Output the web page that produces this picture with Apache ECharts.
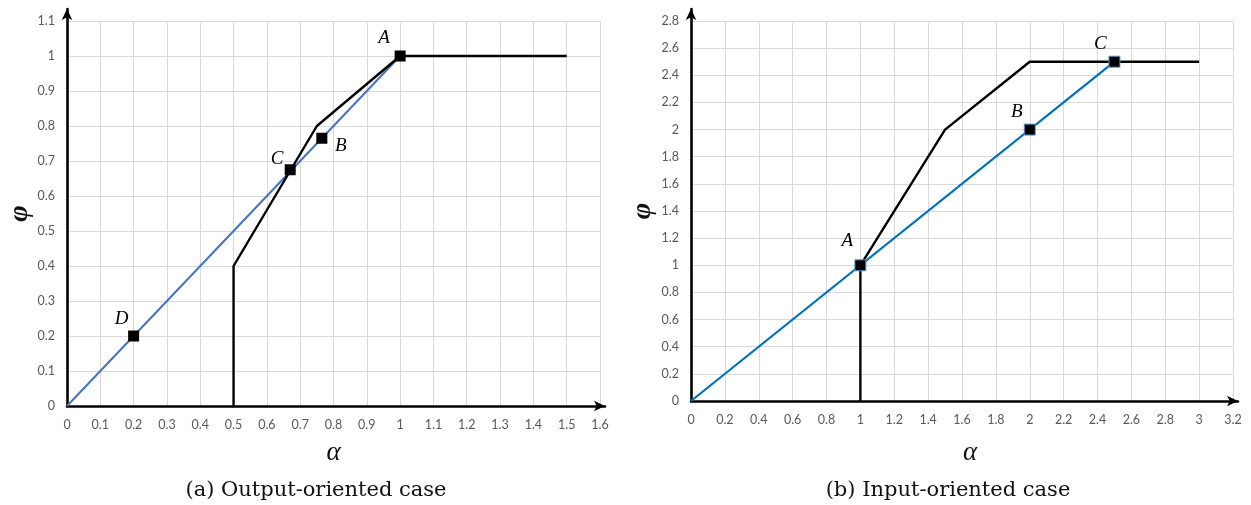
<!DOCTYPE html>
<html>
<head>
<meta charset="utf-8">
<script src="https://cdn.jsdelivr.net/npm/echarts@6/dist/echarts.min.js"></script>
<style>
html,body{margin:0;padding:0;background:#fff;}
#c{width:1251px;height:505px;}
</style>
</head>
<body>
<div id="c"></div>
<script>
// ---- data: (a) output-oriented ----
var aFrontierX = [0.5, 0.5, 0.75, 1, 1.5];
var aFrontierY = [0, 0.4, 0.8, 1, 1];
var aRayX = [0, 1];
var aRayY = [0, 1];
var aPointNames = ['A', 'B', 'C', 'D'];
var aPointX = [1, 0.765, 0.67, 0.2];
var aPointY = [1, 0.765, 0.675, 0.2];
// ---- data: (b) input-oriented ----
var bFrontierX = [1, 1, 1.5, 2, 3];
var bFrontierY = [0, 1, 2, 2.5, 2.5];
var bRayX = [0, 2.5];
var bRayY = [0, 2.5];
var bPointNames = ['A', 'B', 'C'];
var bPointX = [1, 2, 2.5];
var bPointY = [1, 2, 2.5];
// axis ranges
var aXMax = 1.6, aXStep = 0.1, aYMax = 1.1, aYStep = 0.1;
var bXMax = 3.2, bXStep = 0.2, bYMax = 2.8, bYStep = 0.2;
var captions = ['(a) Output-oriented case', '(b) Input-oriented case'];

function zip(xs, ys) { return xs.map(function (x, i) { return [x, ys[i]]; }); }

var tickFont = { color: '#595959', fontSize: 12.5, fontFamily: "Lato,'Liberation Sans',sans-serif" };
var nameFont = { color: '#111', fontSize: 27, fontStyle: 'italic', fontWeight: 'normal', fontFamily: "'Liberation Serif','DejaVu Serif',serif" };
var ptLabelFont = { color: '#000', fontSize: 19, fontStyle: 'italic', fontFamily: "'Liberation Serif','DejaVu Serif',serif" };

// label offsets (style)
var aLabelOffsets = { A: [-16, -18], B: [19, 8], C: [-13, -11], D: [-12, -17] };
var bLabelOffsets = { A: [-13, -24], B: [-13, -18], C: [-14, -18] };

function mainX(idx, max, step, nameGap, namePad) {
  return {
    type: 'value', gridIndex: idx, min: 0, max: max, interval: step,
    name: '\u03b1', nameLocation: 'middle', nameGap: nameGap,
    nameTextStyle: Object.assign({ padding: namePad }, nameFont),
    axisLine: { show: false }, axisTick: { show: false },
    axisLabel: Object.assign({ margin: 12 }, tickFont),
    splitLine: { show: true, lineStyle: { color: '#d9d9d9', width: 1 } }
  };
}
function mainY(idx, max, step, nameGap) {
  return {
    type: 'value', gridIndex: idx, min: 0, max: max, interval: step,
    name: '\u03c6', nameLocation: 'middle', nameGap: nameGap,
    nameTextStyle: Object.assign({}, nameFont, { fontWeight: 'bold', fontSize: 28 }),
    axisLine: { show: false }, axisTick: { show: false },
    axisLabel: Object.assign({ margin: 12 }, tickFont),
    splitLine: { show: true, lineStyle: { color: '#d9d9d9', width: 1 } }
  };
}
function arrowAxis(idx) {
  return {
    type: 'value', gridIndex: idx, min: 0, max: 1,
    axisLine: { show: true, symbol: ['none', 'arrow'], symbolSize: [8, 11], lineStyle: { color: '#000', width: 2.6 } },
    axisTick: { show: false }, axisLabel: { show: false }, splitLine: { show: false }
  };
}

function pointSeries(xi, yi, names, xs, ys, offsets, border) {
  return {
    type: 'scatter', xAxisIndex: xi, yAxisIndex: yi, z: 10,
    symbol: 'rect', symbolSize: 11,
    itemStyle: { color: '#000', opacity: 1, borderColor: border || '#000', borderWidth: border ? 1 : 0 },
    data: names.map(function (n, i) {
      return {
        value: [xs[i], ys[i]], name: n,
        label: Object.assign({ show: true, formatter: n, position: 'inside', offset: offsets[n] }, ptLabelFont)
      };
    })
  };
}

var chart = echarts.init(document.getElementById('c'), null, { renderer: 'canvas' });
chart.setOption({
  animation: false,
  backgroundColor: '#fff',
  title: [
    { text: captions[0], left: 311, top: 475, textAlign: 'center', textStyle: { fontSize: 21, fontWeight: 'normal', color: '#111', fontFamily: "'DejaVu Serif','Liberation Serif',serif" } },
    { text: captions[1], left: 943, top: 475, textAlign: 'center', textStyle: { fontSize: 21, fontWeight: 'normal', color: '#111', fontFamily: "'DejaVu Serif','Liberation Serif',serif" } }
  ],
  grid: [
    { left: 67, top: 21, width: 533, height: 385 },
    { left: 691, top: 21, width: 542, height: 380 },
    { left: 67, top: 9, width: 538, height: 397 },
    { left: 691, top: 9, width: 547, height: 392 }
  ],
  xAxis: [
    mainX(0, aXMax, aXStep, 33, [0, 0, 0, 0]),
    mainX(1, bXMax, bXStep, 38, [0, 0, 0, 16]),
    arrowAxis(2),
    arrowAxis(3)
  ],
  yAxis: [
    mainY(0, aYMax, aYStep, 26),
    mainY(1, bYMax, bYStep, 34),
    arrowAxis(2),
    arrowAxis(3)
  ],
  series: [
    { type: 'line', xAxisIndex: 0, yAxisIndex: 0, data: zip(aRayX, aRayY), showSymbol: false, symbol: 'none', lineStyle: { color: '#4472C4', width: 2 }, z: 3 },
    { type: 'line', xAxisIndex: 0, yAxisIndex: 0, data: zip(aFrontierX, aFrontierY), showSymbol: false, symbol: 'none', lineStyle: { color: '#000', width: 2.4 }, z: 4 },
    pointSeries(0, 0, aPointNames, aPointX, aPointY, aLabelOffsets, null),
    { type: 'line', xAxisIndex: 1, yAxisIndex: 1, data: zip(bRayX, bRayY), showSymbol: false, symbol: 'none', lineStyle: { color: '#0070C0', width: 2.2 }, z: 3 },
    { type: 'line', xAxisIndex: 1, yAxisIndex: 1, data: zip(bFrontierX, bFrontierY), showSymbol: false, symbol: 'none', lineStyle: { color: '#000', width: 2.4 }, z: 4 },
    pointSeries(1, 1, bPointNames, bPointX, bPointY, bLabelOffsets, '#5b9bd5')
  ]
});
</script>
</body>
</html>
